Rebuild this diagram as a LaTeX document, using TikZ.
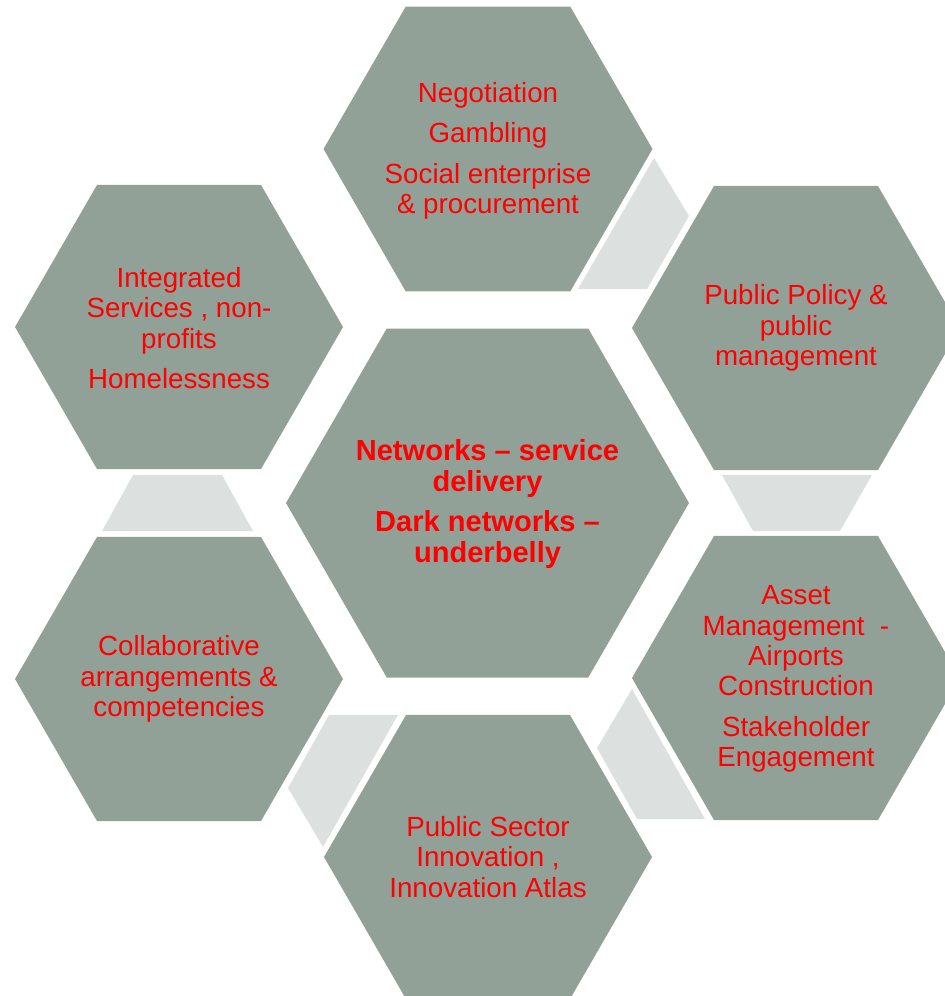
\documentclass[tikz,border=0pt]{standalone}
\usepackage{fontspec}
\setmainfont{Liberation Sans}
\definecolor{hexgray}{RGB}{146,161,152}
\definecolor{linkgray}{RGB}{220,224,223}
\definecolor{txtred}{RGB}{255,0,0}
\begin{document}
\begin{tikzpicture}[x=0.75pt,y=-0.75pt,
  hexfill/.style={fill=hexgray},
  linkfill/.style={fill=linkgray},
  lbl/.style={text=txtred, align=center, inner sep=0pt, font=\fontsize{20.8}{22.8}\selectfont},
  lblbold/.style={lbl, font=\fontsize{21.8}{22.8}\selectfont\bfseries}]
\clip (0,0) rectangle (945,996);
% hexagons
\foreach \x/\y/\r in {488/149/164.5, 179/327/164, 796/328/164, 487.5/503/201.5, 179/679/164, 796/678/164, 488/857/164}
  \fill[hexfill] (\x+\r,\y) -- ++(120:\r) -- ++(180:\r) -- ++(240:\r) -- ++(300:\r) -- ++(0:\r) -- cycle;
% link shapes
\fill[linkfill] (654,158) -- (689,216) -- (647,289) -- (578,289) -- cycle;
\fill[linkfill] (722,475) -- (872,475) -- (840,531) -- (753,531) -- cycle;
\fill[linkfill] (632,689) -- (597,748) -- (637,819) -- (705,819) -- cycle;
\fill[linkfill] (329,715) -- (398,715) -- (323,847) -- (288,788) -- cycle;
\fill[linkfill] (133,475) -- (222,475) -- (253,531) -- (102,531) -- cycle;
% labels
\node[lbl] (top) at (488,151) {Negotiation\\[7.5pt]Gambling\\[7.5pt]Social enterprise\\\& procurement};
\node[lbl] (ul) at (179,328) {Integrated\\Services , non-\\profits\\[7.5pt]Homelessness};
\node[lbl] (ur) at (796,328) {Public Policy \&\\public\\management};
\node[lblbold] (ctr) at (487.5,504) {Networks -- service\\delivery\\[7.5pt]Dark networks --\\underbelly};
\node[lbl] (ll) at (179,679) {Collaborative\\arrangements \&\\competencies};
\node[lbl] (lr) at (796,679) {Asset\\Management~~-\\Airports\\Construction\\[7.5pt]Stakeholder\\Engagement};
\node[lbl] (bot) at (488,857) {Public Sector\\Innovation ,\\Innovation Atlas};
\end{tikzpicture}
\end{document}
